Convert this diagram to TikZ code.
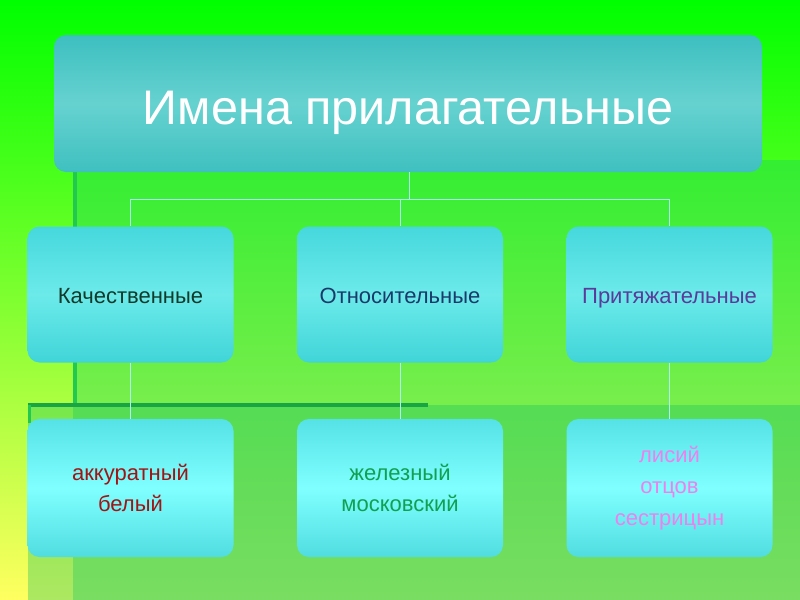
\documentclass[tikz,border=0pt]{standalone}
\usepackage{fontspec}
\setmainfont{Liberation Sans}
\usetikzlibrary{positioning}

\definecolor{bgtop}{RGB}{0,255,0}
\definecolor{bgbot}{RGB}{255,255,96}
\definecolor{panelA}{RGB}{17,204,100}
\definecolor{panelB}{RGB}{20,190,100}
\definecolor{rule}{RGB}{34,200,80}
\definecolor{ruledark}{RGB}{25,165,70}
\definecolor{conn}{RGB}{170,255,240}
\definecolor{txtkach}{RGB}{16,58,42}
\definecolor{txtotn}{RGB}{26,58,106}
\definecolor{txtprit}{RGB}{90,58,154}
\definecolor{txtred}{RGB}{160,20,20}
\definecolor{txtgreen}{RGB}{16,160,80}
\definecolor{txtpink}{RGB}{238,128,238}

\tikzset{
	titlebox/.style={rounded corners=9pt, minimum width=531pt, minimum height=102.75pt,
		top color={rgb,255:red,61;green,191;blue,192}, bottom color={rgb,255:red,63;green,192;blue,192},
		middle color={rgb,255:red,102;green,210;blue,208},
		text=white, font=\fontsize{36.4}{40}\selectfont, text height=32pt, text depth=0pt},
	kindbox/.style={rounded corners=9pt, minimum width=154.5pt, minimum height=102pt,
		top color={rgb,255:red,69;green,216;blue,221}, bottom color={rgb,255:red,64;green,213;blue,216},
		middle color={rgb,255:red,108;green,234;blue,234},
		font=\fontsize{16.5}{23.5}\selectfont, text height=13pt, text depth=0pt},
	wordbox/.style={rounded corners=9pt, minimum width=154.5pt, minimum height=103.5pt,
		top color={rgb,255:red,85;green,226;blue,230}, bottom color={rgb,255:red,80;green,221;blue,224},
		middle color={rgb,255:red,128;green,255;blue,255},
		align=center, font=\fontsize{16.5}{23.5}\selectfont},
	conn/.style={draw=conn, line width=0.75pt}
}

\begin{document}
\begin{tikzpicture}[x=0.75pt,y=-0.75pt]
\useasboundingbox (0,0) rectangle (800,600);
% background
\shade[top color=bgtop, bottom color=bgbot] (0,0) rectangle (800,600);
\fill[panelA, fill opacity=0.33] (73,160) rectangle (800,600);
\fill[panelB, fill opacity=0.35] (28,405) rectangle (800,600);
\draw[rule, line width=3pt] (75,168) -- (75,405);
\draw[ruledark, line width=3pt] (28,405) -- (428,405);
\draw[rule, line width=2.5pt] (29.5,405) -- (29.5,423);

% boxes
\node[titlebox] (title) at (408,103.5) {Имена прилагательные};

\node[kindbox, text=txtkach] (kach) at (130.5,294.5) {Качественные};
\node[kindbox, text=txtotn] (otn) at (400,294.5) {Относительные};
\node[kindbox, text=txtprit] (prit) at (669.5,294.5) {Притяжательные};

\node[wordbox, text=txtred] (akk) at (130.5,488) {аккуратный\\белый};
\node[wordbox, text=txtgreen] (zhel) at (400,488) {железный\\московский};
\node[wordbox, text=txtpink] (lis) at (669.5,488) {лисий\\отцов\\сестрицын};

% links
\coordinate (bus) at (409,199);
\draw[conn] (title.south -| bus) -- (bus);
\draw[conn] (kach.north) -- (kach.north |- bus) -- (prit.north |- bus) -- (prit.north);
\draw[conn] (otn.north) -- (otn.north |- bus);
\draw[conn] (kach) -- (akk);
\draw[conn] (otn) -- (zhel);
\draw[conn] (prit) -- (lis);
\end{tikzpicture}
\end{document}
